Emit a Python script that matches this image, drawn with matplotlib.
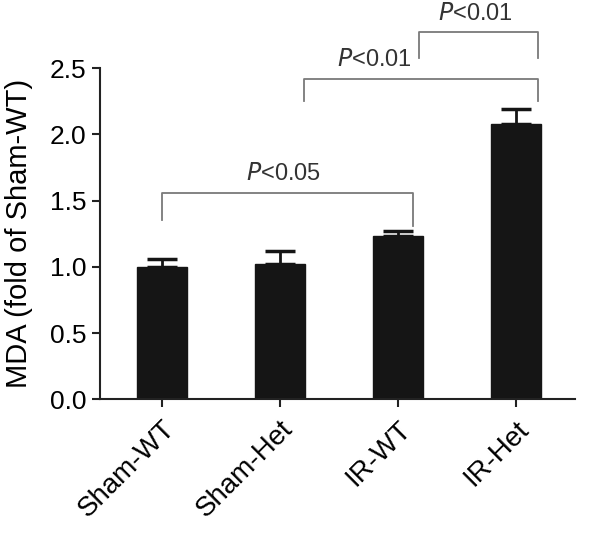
import numpy as np
import matplotlib.pyplot as plt

plt.rcParams['font.family'] = ['Liberation Sans', 'DejaVu Sans']

# ========== DATA ==========
groups = ["Sham-WT", "Sham-Het", "IR-WT", "IR-Het"]
means = [1.00, 1.02, 1.23, 2.08]
errs = [0.06, 0.10, 0.04, 0.11]
yticks = [0.0, 0.5, 1.0, 1.5, 2.0, 2.5]

# brackets: (x_left, x_right, y_top, left_leg_bottom, right_leg_bottom, label, label_x, label_y)
brackets = [
    (0.0, 2.13, 1.56, 1.35, 1.31, "<0.05", 1.03, 1.70),
    (1.2, 3.19, 2.42, 2.25, 2.25, "<0.01", 1.8, 2.56),
    (2.18, 3.19, 2.77, 2.58, 2.58, "<0.01", 2.66, 2.91),
]

fig = plt.figure(figsize=(6.07, 5.33), dpi=100)
ax = fig.add_axes([0.165, 0.251, 0.782, 0.621])

x = np.arange(len(groups))
ax.bar(x, means, width=0.42, color='#151515', edgecolor='#151515', zorder=2)
ax.errorbar(x, means, yerr=[np.zeros(len(errs)), errs], fmt='none',
            ecolor='#151515', elinewidth=2, capsize=11, capthick=2.5, zorder=1)

for xl, xr, yt, bl, br, lab, lx, ly in brackets:
    ax.plot([xl, xl, xr, xr], [bl, yt, yt, br], color='#7a7a7a', lw=1.3,
            clip_on=False)
    ax.text(lx, ly, r"$\mathit{P}$" + lab, ha='center', va='center',
            fontsize=17, color='#333333', clip_on=False)

ax.set_xlim(-0.525, 3.5)
ax.set_ylim(0, 2.5)
ax.set_yticks(yticks)
ax.set_yticklabels([f"{v:.1f}" for v in yticks], fontsize=19)
ax.set_xticks(x)
ax.set_xticklabels(groups, rotation=45, ha='right', rotation_mode='anchor',
                   fontsize=20)
ax.set_ylabel("MDA (fold of Sham-WT)", fontsize=21, labelpad=12)

for s in ['top', 'right']:
    ax.spines[s].set_visible(False)
for s in ['left', 'bottom']:
    ax.spines[s].set_linewidth(1.5)
    ax.spines[s].set_color('#222222')
ax.tick_params(axis='both', width=1.5, length=6, color='#222222', pad=4)
ax.tick_params(axis='x', pad=6)

plt.savefig("out.png", dpi=100)
